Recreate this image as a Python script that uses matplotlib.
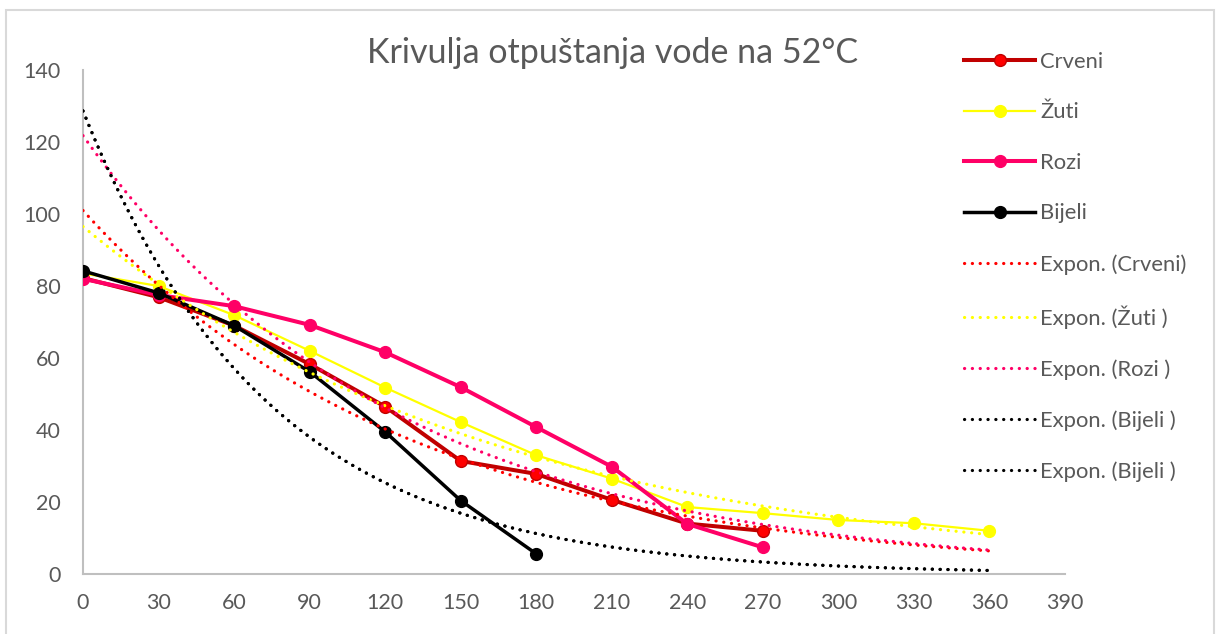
import numpy as np
import matplotlib
matplotlib.use("Agg")
import matplotlib.pyplot as plt
from matplotlib.patches import Rectangle

plt.rcParams['font.family'] = ['Lato', 'DejaVu Sans']

# vrijeme (min) i masa vode
vrijeme = [0, 30, 60, 90, 120, 150, 180, 210, 240, 270, 300, 330, 360]
crveni = [82.2, 76.9, 69.0, 58.3, 46.5, 31.4, 27.8, 20.6, 14.0, 12.0]
zuti = [83.5, 80.0, 71.9, 62.0, 51.8, 42.2, 33.0, 26.5, 18.6, 16.9, 15.0, 14.1, 12.0]
rozi = [82.0, 77.5, 74.4, 69.2, 61.6, 51.9, 40.8, 29.8, 13.9, 7.4]
bijeli = [84.2, 78.1, 69.0, 56.2, 39.5, 20.4, 5.6]

x_ticks = list(range(0, 391, 30))
y_ticks = list(range(0, 141, 20))

GRAY = '#595959'

fig = plt.figure(figsize=(12.17, 6.34), dpi=100)
W, H = 1217, 634
ax = fig.add_axes([83 / W, (H - 574) / H, (1065 - 83) / W, (574 - 70) / H])

serije = [
    ('Crveni', crveni, '#C00000', '#FF0000', '#C00000', 2.9),
    ('Žuti', zuti, '#FFFF00', '#FFFF00', '#FFFF00', 1.6),
    ('Rozi', rozi, '#FF0066', '#FF0066', '#FF0066', 2.9),
    ('Bijeli', bijeli, '#000000', '#000000', '#000000', 2.5),
]

for ime, y, lc, mfc, mec, lw in serije:
    x = vrijeme[:len(y)]
    ax.plot(x, y, color=lc, lw=lw, marker='o', ms=8.5, mfc=mfc, mec=mec,
            mew=1, label=ime, zorder=3)

# eksponencijalni trend (kao u Excelu), preko cijelog raspona 0-360
xt = np.linspace(0, 360, 300)
trendovi = [('Expon. (Crveni)', crveni, '#FF0000'),
            ('Expon. (Žuti )', zuti, '#FFFF00'),
            ('Expon. (Rozi )', rozi, '#FF0066'),
            ('Expon. (Bijeli )', bijeli, '#000000'),
            ('Expon. (Bijeli )', bijeli, '#000000')]
for ime, y, c in trendovi:
    x = np.array(vrijeme[:len(y)])
    b, a = np.polyfit(x, np.log(y), 1)
    ax.plot(xt, np.exp(a) * np.exp(b * xt), color=c, lw=2.3,
            ls=(0, (0.05, 2.4)), dash_capstyle='round', label=ime, zorder=4)

ax.set_xlim(0, 390)
ax.set_ylim(0, 140)
ax.set_xticks(x_ticks)
ax.set_yticks(y_ticks)
ax.tick_params(length=0, labelsize=15.5, labelcolor=GRAY)
ax.tick_params(axis='y', pad=16)
ax.tick_params(axis='x', pad=14)
for s in ['top', 'right']:
    ax.spines[s].set_visible(False)
for s in ['left', 'bottom']:
    ax.spines[s].set_color('#BFBFBF')
    ax.spines[s].set_linewidth(1.5)

fig.text(612.5 / W, (H - 63) / H, 'Krivulja otpuštanja vode na 52°C',
         ha='center', va='baseline', fontsize=24.5, color=GRAY)

leg = fig.legend(loc='upper left', bbox_to_anchor=(953 / W, (H - 41) / H),
                 frameon=False, fontsize=15.8, handlelength=3.25,
                 handletextpad=0.22, labelspacing=1.39, borderpad=0)
for t in leg.get_texts():
    t.set_color(GRAY)

# okvir grafikona
fig.patches.append(Rectangle((6 / W, -0.1), (1214 - 6) / W, 1.1 - 10 / H,
                             transform=fig.transFigure, fill=False,
                             edgecolor='#D9D9D9', lw=1.5))

fig.savefig('out.png', dpi=100)
